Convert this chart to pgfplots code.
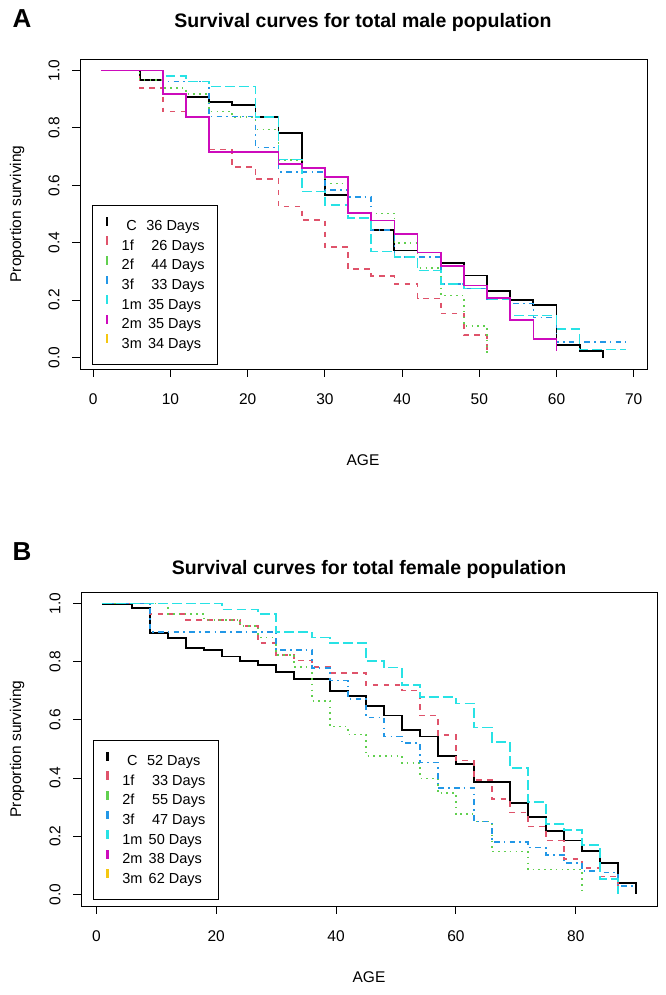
\documentclass[border=0pt]{standalone}
\usepackage{pgfplots}
\pgfplotsset{compat=1.18}
\usepackage{fontspec}
\setmainfont{Liberation Sans}

% R default palette
\definecolor{rred}{HTML}{DF536B}
\definecolor{rgreen}{HTML}{61D04F}
\definecolor{rblue}{HTML}{2297E6}
\definecolor{rcyan}{HTML}{28E2E5}
\definecolor{rmag}{HTML}{CD0BBC}
\definecolor{ryel}{HTML}{F5C710}

% line types 1..6 as in R
\tikzset{
  ltyC/.style={black, solid, line width=1.8pt},
  lty1f/.style={rred, line width=1.6pt, dash pattern=on 5.5pt off 5.5pt},
  lty2f/.style={rgreen, line width=1.6pt, dash pattern=on 1.6pt off 4.2pt},
  lty3f/.style={rblue, line width=1.6pt, dash pattern=on 1.6pt off 4.2pt on 5.6pt off 4.2pt},
  lty1m/.style={rcyan, line width=1.6pt, dash pattern=on 9.8pt off 4.2pt},
  lty2m/.style={rmag, line width=1.7pt, solid},
  lty3m/.style={ryel, line width=1.6pt, dash pattern=on 2.8pt off 2.8pt on 8.4pt off 2.8pt},
}

\newcommand{\tickfont}{\fontsize{15.5}{18}\selectfont}
\newcommand{\legfont}{\fontsize{14.5}{17}\selectfont}
% legend texts
\newcommand{\lgC}[1]{\hspace{4.7pt}C\hspace{9.5pt}#1 Days}
\newcommand{\lgF}[2]{#1\hspace{17.6pt}#2 Days}
\newcommand{\lgM}[2]{#1\hspace{6.2pt}#2 Days}

\pgfplotsset{
  survax/.style={
    scale only axis, anchor=south west,
    ymin=-0.04, ymax=1.04,
    ytick={0,0.2,0.4,0.6,0.8,1},
    tick align=outside, xtick pos=lower, ytick pos=lower,
    major tick length=8pt,
    tick style={black, line width=0.9pt},
    axis line style={black, line width=0.9pt},
    /pgf/number format/assume math mode=true,
    ticklabel style={font=\tickfont},
    xticklabel style={yshift=-13pt},
    yticklabel style={xshift=-18pt, rotate=90, anchor=center,
      /pgf/number format/.cd, fixed, fixed zerofill, precision=1},
    const plot mark left, no markers,
    legend cell align=left,
    % legend key: a short coloured bar, as R draws it
    legend image code/.code={
      \fill[#1, draw=none, solid] (-1.1pt,0.6pt) rectangle (1.1pt,9.3pt);
      \path[draw=none, fill=none] (0pt,0pt) -- (15pt,0pt);},
    legend style={draw=black, line width=0.8pt, fill=white,
      font=\legfont, at={(0,0)}, anchor=south west,
      inner xsep=13.2pt, inner ysep=11pt, row sep=0pt,
      nodes={inner sep=0pt, text height=14.4pt, text depth=5.2pt}},
  }
}

\begin{document}
\begin{tikzpicture}[x=1pt,y=1pt]
\useasboundingbox (0,0) rectangle (665,995);

% ---------------- male population ----------------
\begin{axis}[survax, at={(80pt,626pt)}, width=567pt, height=310pt,
  xmin=-1.72, xmax=71.72, xtick={0,10,...,70},
  legend style={xshift=12pt, yshift=4pt}]
\addlegendimage{ltyC}\addlegendentry{\lgC{36}}
\addlegendimage{lty1f}\addlegendentry{\lgF{1f}{26}}
\addlegendimage{lty2f}\addlegendentry{\lgF{2f}{44}}
\addlegendimage{lty3f}\addlegendentry{\lgF{3f}{33}}
\addlegendimage{lty1m}\addlegendentry{\lgM{1m}{35}}
\addlegendimage{lty2m}\addlegendentry{\lgM{2m}{35}}
\addlegendimage{lty3m}\addlegendentry{\lgM{3m}{34}}
% C
\addplot[ltyC, forget plot] coordinates {(1,1)(6,0.967)(9,0.918)(12,0.907)(15,0.891)(18,0.880)(21,0.837)(24,0.783)(27,0.662)(30,0.565)(33,0.503)(36,0.444)(39,0.373)(42,0.366)(45,0.329)(48,0.286)(51,0.233)(54,0.199)(57,0.184)(60,0.043)(63,0.022)(66,0)};
% 1f
\addplot[lty1f, forget plot] coordinates {(1,1)(6,0.938)(9,0.857)(12,0.837)(15,0.725)(18,0.663)(21,0.621)(24,0.526)(27,0.479)(30,0.384)(33,0.308)(36,0.283)(39,0.257)(42,0.206)(45,0.153)(48,0.078)(51,0.015)};
% 2f
\addplot[lty2f, forget plot] coordinates {(1,1)(6,0.967)(9,0.938)(12,0.918)(15,0.857)(18,0.837)(21,0.795)(24,0.689)(27,0.662)(30,0.606)(33,0.502)(39,0.399)(42,0.312)(45,0.216)(48,0.109)(51,0.015)};
% 3f
\addplot[lty3f, forget plot] coordinates {(1,1)(9,0.961)(15,0.839)(21,0.731)(24,0.647)(30,0.583)(33,0.560)(36,0.445)(39,0.350)(45,0.257)(48,0.240)(51,0.202)(54,0.188)(57,0.140)(60,0.055)(69,0.055)};
% 1m
\addplot[lty1m, forget plot] coordinates {(1,1)(9,0.981)(12,0.961)(15,0.944)(21,0.837)(24,0.690)(27,0.578)(30,0.532)(33,0.486)(36,0.370)(39,0.351)(42,0.303)(45,0.257)(48,0.240)(51,0.202)(54,0.147)(60,0.100)(63,0.028)(69,0.028)};
% 2m
\addplot[lty2m, forget plot] coordinates {(1,1)(9,0.918)(12,0.837)(15,0.715)(24,0.673)(27,0.661)(30,0.628)(33,0.503)(36,0.477)(39,0.431)(42,0.366)(45,0.320)(48,0.251)(51,0.208)(54,0.130)(57,0.065)(60,0.022)};
\end{axis}

% ---------------- female population ----------------
\begin{axis}[survax, at={(81pt,89pt)}, width=576pt, height=314pt,
  xmin=-2.56, xmax=93.56, xtick={0,20,...,80},
  legend style={xshift=11.7pt, yshift=6pt}]
\addlegendimage{ltyC}\addlegendentry{\lgC{52}}
\addlegendimage{lty1f}\addlegendentry{\lgF{1f}{33}}
\addlegendimage{lty2f}\addlegendentry{\lgF{2f}{55}}
\addlegendimage{lty3f}\addlegendentry{\lgF{3f}{47}}
\addlegendimage{lty1m}\addlegendentry{\lgM{1m}{50}}
\addlegendimage{lty2m}\addlegendentry{\lgM{2m}{38}}
\addlegendimage{lty3m}\addlegendentry{\lgM{3m}{62}}
% C
\addplot[ltyC, forget plot] coordinates {(1,1)(6,0.984)(9,0.898)(12,0.881)(15,0.848)(18,0.840)(21,0.818)(24,0.804)(27,0.788)(30,0.764)(33,0.741)(39,0.699)(42,0.683)(45,0.648)(48,0.615)(51,0.566)(54,0.543)(57,0.477)(60,0.449)(63,0.386)(69,0.315)(72,0.267)(75,0.218)(78,0.185)(81,0.150)(84,0.107)(87,0.040)(90,0)};
% 1f
\addplot[lty1f, forget plot] coordinates {(1,1)(9,0.964)(15,0.944)(24,0.924)(27,0.864)(30,0.824)(33,0.804)(36,0.782)(39,0.762)(45,0.720)(51,0.701)(54,0.615)(57,0.548)(60,0.460)(63,0.394)(66,0.327)(69,0.282)(72,0.233)(75,0.185)(78,0.121)(81,0.090)(84,0.061)(87,0.030)};
% 2f
\addplot[lty2f, forget plot] coordinates {(1,1)(12,0.964)(18,0.944)(24,0.924)(27,0.884)(30,0.824)(33,0.782)(36,0.666)(39,0.577)(42,0.550)(45,0.476)(51,0.451)(54,0.399)(57,0.348)(60,0.276)(63,0.250)(66,0.147)(72,0.086)(81,0)};
% 3f
\addplot[lty3f, forget plot] coordinates {(1,1)(9,0.903)(30,0.841)(36,0.779)(39,0.735)(42,0.671)(45,0.609)(48,0.543)(51,0.520)(54,0.454)(57,0.365)(63,0.250)(66,0.181)(72,0.161)(75,0.136)(78,0.108)(81,0.080)(84,0.075)(87,0.029)(90,0.029)};
% 1m
\addplot[lty1m, forget plot] coordinates {(1,1)(21,0.980)(27,0.964)(30,0.903)(36,0.883)(39,0.864)(45,0.803)(48,0.780)(51,0.720)(54,0.678)(60,0.657)(63,0.574)(66,0.525)(69,0.434)(72,0.317)(75,0.242)(78,0.221)(81,0.170)(84,0.052)(87,0)};
\end{axis}

% titles, panel letters and axis labels
\node[font=\fontsize{26}{30}\selectfont\bfseries] at (22,976) {A};
\node[font=\fontsize{19.5}{23}\selectfont\bfseries] at (363,973) {Survival curves for total male population};
\node[font=\tickfont] at (363,535) {AGE};
\node[font=\tickfont, rotate=90] at (17,781) {Proportion surviving};

\node[font=\fontsize{26}{30}\selectfont\bfseries] at (22,443) {B};
\node[font=\fontsize{19.5}{23}\selectfont\bfseries] at (369,426) {Survival curves for total female population};
\node[font=\tickfont] at (369,18) {AGE};
\node[font=\tickfont, rotate=90] at (17,246) {Proportion surviving};
\end{tikzpicture}
\end{document}
